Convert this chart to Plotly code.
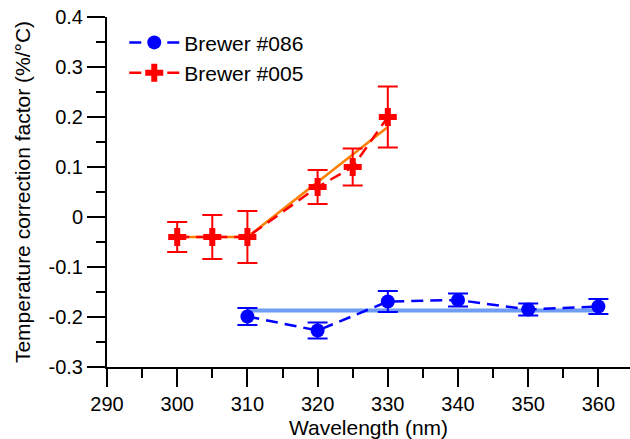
import plotly.graph_objects as go

# Brewer #086 (blue)
wl_086 = [310, 320, 330, 340, 350, 360]
tc_086 = [-0.199, -0.227, -0.169, -0.166, -0.185, -0.179]
err_086 = [0.017, 0.016, 0.021, 0.013, 0.012, 0.015]
fit_086_x = [310, 360]
fit_086_y = [-0.187, -0.187]

# Brewer #005 (red)
wl_005 = [300, 305, 310, 320, 325, 330]
tc_005 = [-0.04, -0.04, -0.04, 0.06, 0.10, 0.20]
err_005 = [0.03, 0.044, 0.052, 0.034, 0.037, 0.061]
fit_005_x = [300, 310, 330]
fit_005_y = [-0.04, -0.04, 0.18]

x_ticks = [290, 300, 310, 320, 330, 340, 350, 360]
y_ticks = [-0.3, -0.2, -0.1, 0, 0.1, 0.2, 0.3, 0.4]
y_ticktext = ["-0.3", "-0.2", "-0.1", "0", "0.1", "0.2", "0.3", "0.4"]

FONT = "Liberation Sans, Arial, sans-serif"

fig = go.Figure()

fig.add_trace(go.Scatter(x=fit_086_x, y=fit_086_y, mode="lines",
                         line=dict(color="#6f9cf5", width=4), showlegend=False,
                         hoverinfo="skip"))
fig.add_trace(go.Scatter(x=fit_005_x, y=fit_005_y, mode="lines",
                         line=dict(color="#ff8000", width=2.5), showlegend=False,
                         hoverinfo="skip"))

fig.add_trace(go.Scatter(
    x=wl_086, y=tc_086, mode="lines+markers", name="Brewer #086",
    line=dict(color="#0000ff", width=2.5, dash="12px,7px"),
    marker=dict(symbol="circle", size=14, color="#0000ff"),
    error_y=dict(type="data", array=err_086, color="#0000ff", thickness=2, width=10),
))
fig.add_trace(go.Scatter(
    x=wl_005, y=tc_005, mode="lines+markers", name="Brewer #005",
    line=dict(color="#ff0000", width=2.5, dash="12px,7px"),
    marker=dict(symbol="cross", size=15, color="#ff0000"),
    error_y=dict(type="data", array=err_005, color="#ff0000", thickness=2, width=10),
))

fig.update_layout(
    width=630, height=439,
    margin=dict(l=107, r=0, t=17, b=72),
    paper_bgcolor="white", plot_bgcolor="white",
    font=dict(family=FONT, size=20, color="black"),
    legend=dict(x=0.033, y=0.985, xanchor="left", yanchor="top",
                font=dict(size=21), bgcolor="rgba(0,0,0,0)",
                itemwidth=50, tracegroupgap=0),
    xaxis=dict(range=[290, 364.5], tickvals=x_ticks, ticks="outside",
               ticklen=18, tickwidth=2, tickcolor="black",
               showline=True, linewidth=2, linecolor="black",
               showgrid=False, zeroline=False, automargin=False,
               minor=dict(dtick=5, tick0=290, ticks="outside", ticklen=9,
                          tickwidth=2, tickcolor="black", showgrid=False),
               title=dict(text="Wavelength (nm)", font=dict(size=21))),
    yaxis=dict(range=[-0.3, 0.4], tickvals=y_ticks, ticktext=y_ticktext,
               ticks="outside", ticklen=18, tickwidth=2, tickcolor="black",
               showline=True, linewidth=2, linecolor="black",
               showgrid=False, zeroline=False, automargin=False,
               minor=dict(dtick=0.05, tick0=0, ticks="outside", ticklen=9,
                          tickwidth=2, tickcolor="black", showgrid=False),
               title=dict(text="Temperature correction factor (%/°C)",
                          font=dict(size=21), standoff=12)),
)

fig.write_html("out.html", config={"displayModeBar": False},
               post_script="document.body.style.margin='0px';")
